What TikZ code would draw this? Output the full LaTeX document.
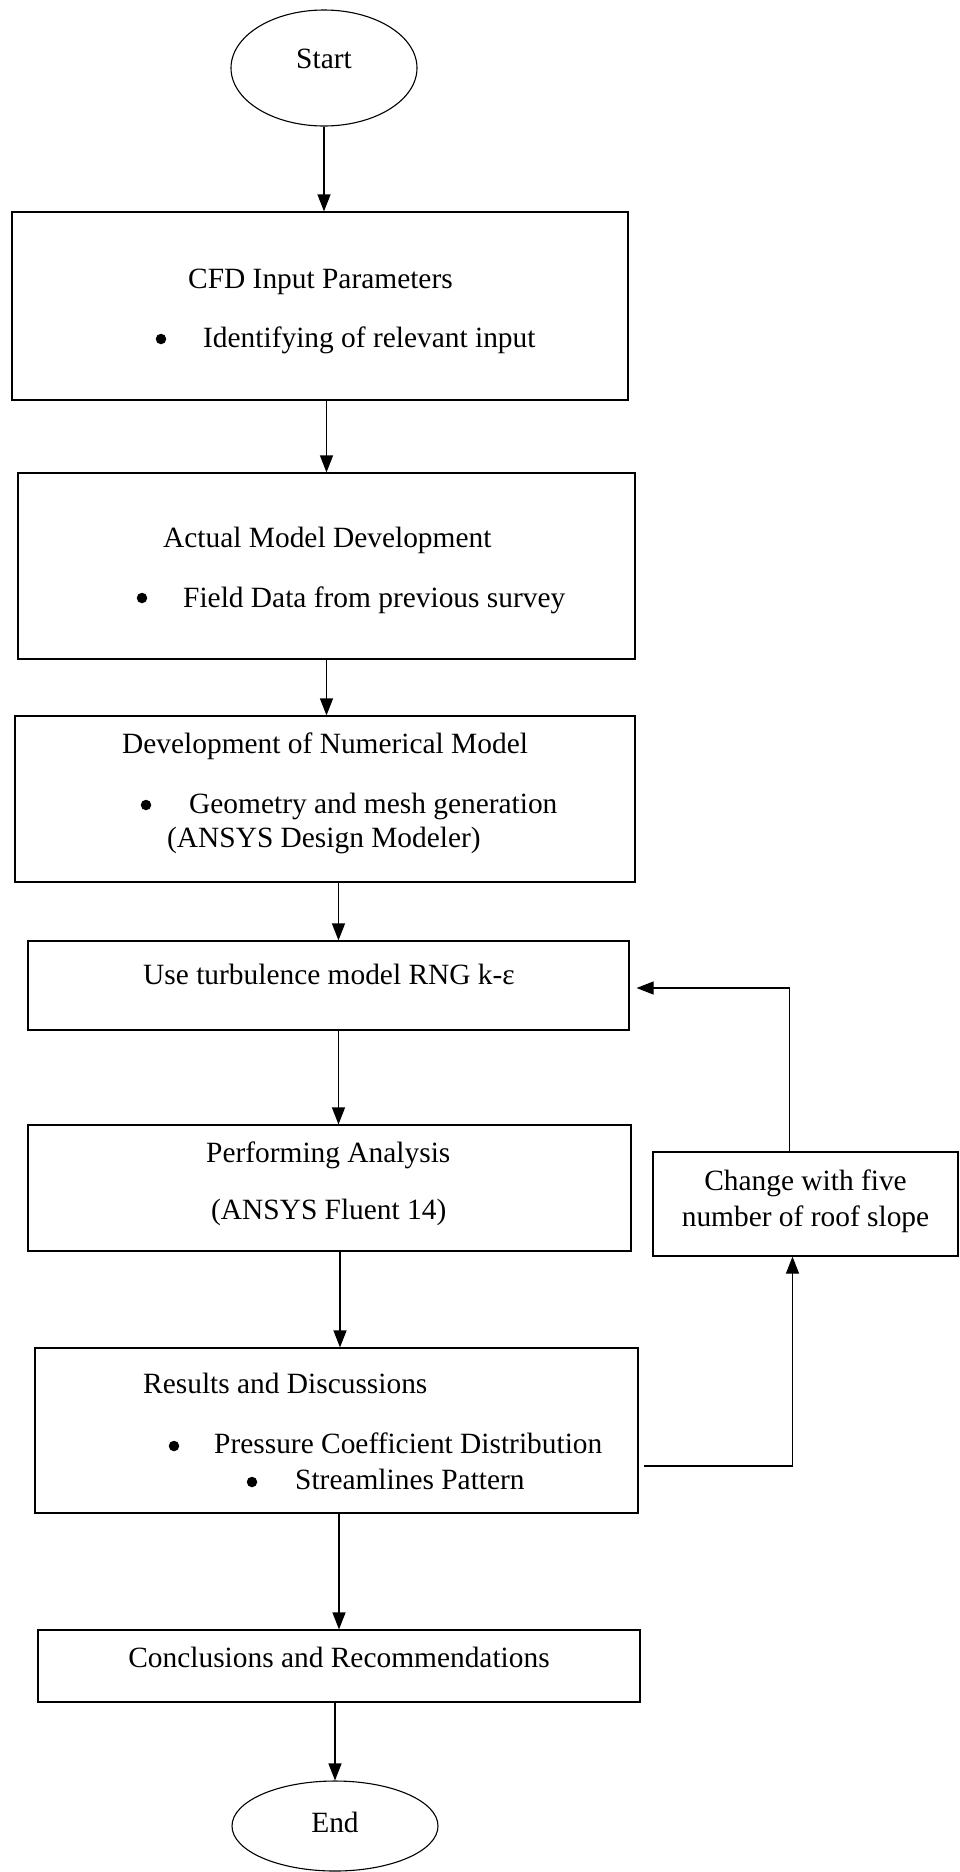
\documentclass[tikz,border=0pt]{standalone}
\usepackage{fontspec}
\setmainfont{Liberation Serif}
\usetikzlibrary{arrows.meta,shapes.geometric}
\begin{document}
\begin{tikzpicture}[x=1pt,y=-1pt,
  box/.style={draw,line width=1.2pt,inner sep=0pt},
  oval/.style={draw,ellipse,line width=1.1pt,inner sep=0pt},
  txt/.style={inner sep=0pt,anchor=base west,font=\fontsize{29.4}{35}\selectfont},
  ctxt/.style={inner sep=0pt,anchor=base,font=\fontsize{29.4}{35}\selectfont},
  dot/.style={circle,fill,inner sep=0pt,minimum width=9.5pt,minimum height=10.5pt},
  arr/.style={line width=1.2pt,-{Triangle[length=17pt,width=13pt]}}]
\useasboundingbox (0,0) rectangle (960,1872);
% shapes
\node[oval,minimum width=186pt,minimum height=116pt] (start) at (324,68) {};
\node[box,minimum width=616pt,minimum height=188pt] (cfd) at (320,306) {};
\node[box,minimum width=617pt,minimum height=186pt] (actual) at (326.5,566) {};
\node[box,minimum width=620pt,minimum height=166pt] (num) at (325,799) {};
\node[box,minimum width=601pt,minimum height=89pt] (turb) at (328.5,985.5) {};
\node[box,minimum width=603pt,minimum height=126pt] (perf) at (329.5,1188) {};
\node[box,minimum width=305pt,minimum height=104pt] (change) at (805.5,1204) {};
\node[box,minimum width=603pt,minimum height=165pt] (results) at (336.5,1430.5) {};
\node[box,minimum width=602pt,minimum height=72pt] (conc) at (339,1666) {};
\node[oval,minimum width=206pt,minimum height=90pt] (end) at (335,1826) {};
% texts
\node[ctxt] (tstart) at (324,68) {Start};
\node[txt] (t1) at (188,288) {CFD Input Parameters};
\node[dot] (b1) at (161,339) {};
\node[txt] (t2) at (203,347) {Identifying of relevant input};
\node[txt] (t3) at (163,547) {Actual Model Development};
\node[dot] (b2) at (142,598) {};
\node[txt] (t4) at (183,607) {Field Data from previous survey};
\node[txt] (t5) at (122,753) {Development of Numerical Model};
\node[dot] (b3) at (146,805) {};
\node[txt] (t6) at (189,813) {Geometry and mesh generation};
\node[txt] (t7) at (167,847) {(ANSYS Design Modeler)};
\node[txt] (t8) at (143,984) {Use turbulence model RNG k-ε};
\node[txt] (t9) at (206,1162) {Performing Analysis};
\node[txt] (t10) at (211,1219) {(ANSYS Fluent 14)};
\node[ctxt] (t11) at (805.5,1190) {Change with five};
\node[ctxt] (t12) at (805.5,1226) {number of roof slope};
\node[txt] (t13) at (143,1393) {Results and Discussions};
\node[dot] (b4) at (174,1446) {};
\node[txt] (t14) at (214,1453) {Pressure Coefficient Distribution};
\node[dot] (b5) at (252,1482) {};
\node[txt] (t15) at (295,1489) {Streamlines Pattern};
\node[ctxt] (t16) at (339,1667) {Conclusions and Recommendations};
\node[ctxt] (tend) at (335,1832) {End};
% connectors
\draw[arr] (start.south) -- (start.south |- cfd.north);
\draw[arr] (actual.north |- cfd.south) -- (actual.north);
\draw[arr] (actual.south) -- (actual.south |- num.north);
\draw[arr] ([xshift=10pt]turb.north |- num.south) -- ([xshift=10pt]turb.north);
\draw[arr] ([xshift=10pt]turb.south) -- ([xshift=10pt]turb.south |- perf.north);
\draw[arr] ([xshift=3.5pt]results.north |- perf.south) -- ([xshift=3.5pt]results.north);
\draw[arr] (conc.north |- results.south) -- (conc.north);
\draw[arr] (end.north |- conc.south) -- (end.north);
\draw[arr] ([xshift=5pt,yshift=-35.5pt]results.east) -| ([xshift=-13pt]change.south);
\draw[arr] ([xshift=-16pt]change.north) |- ([xshift=7pt,yshift=-2.5pt]turb.east);
\end{tikzpicture}
\end{document}
